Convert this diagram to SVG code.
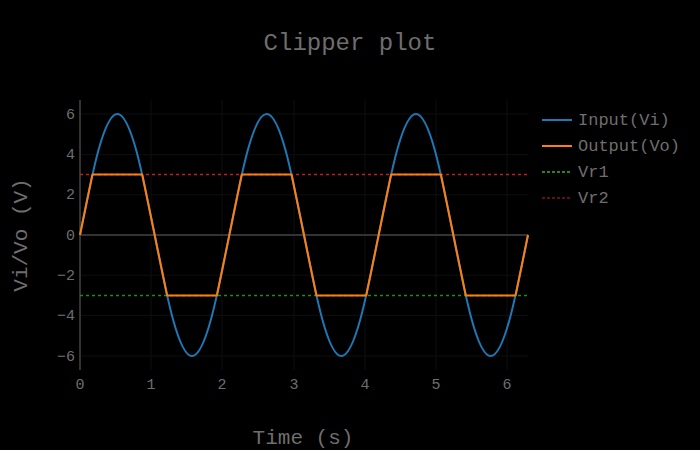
<svg xmlns="http://www.w3.org/2000/svg" width="700" height="450" viewBox="0 0 700 450">
<style>
text{font-family:"Liberation Mono","Courier New",monospace;fill:#6e6e6e}
.tk{font-size:15px}
.grid{stroke:#0f0f0f;stroke-width:1}
.lg{font-size:17px}
</style>
<rect width="700" height="450" fill="#000"/>
<text x="350" y="50" font-size="24" text-anchor="middle">Clipper plot</text>
<g id="grid">
<path class="grid" d="M151,100V370M222,100V370M294,100V370M365,100V370M436,100V370M507,100V370M80,114H528M80,154.7H528M80,194.8H528M80,275.2H528M80,315.3H528M80,356H528"/>
<path d="M80,235H528" stroke="#333" stroke-width="2"/>
<path d="M80,100V370" stroke="#333" stroke-width="2"/>
</g>
<g id="ticks" class="tk">
<text x="75" y="119" text-anchor="end">6</text>
<text x="75" y="159" text-anchor="end">4</text>
<text x="75" y="199" text-anchor="end">2</text>
<text x="75" y="240" text-anchor="end">0</text>
<text x="75" y="280" text-anchor="end">−2</text>
<text x="75" y="320" text-anchor="end">−4</text>
<text x="75" y="361" text-anchor="end">−6</text>
<text x="80" y="389" text-anchor="middle">0</text>
<text x="151" y="389" text-anchor="middle">1</text>
<text x="222" y="389" text-anchor="middle">2</text>
<text x="294" y="389" text-anchor="middle">3</text>
<text x="365" y="389" text-anchor="middle">4</text>
<text x="436" y="389" text-anchor="middle">5</text>
<text x="507" y="389" text-anchor="middle">6</text>
</g>
<text x="303" y="444" font-size="21" text-anchor="middle">Time (s)</text>
<text transform="translate(27,235) rotate(-90)" font-size="21" text-anchor="middle">Vi/Vo (V)</text>
<g id="series" fill="none">
<path d="M80,174.5H528" stroke="#c0201f" stroke-width="1.5" stroke-dasharray="3,3"/>
<path d="M80,295.5H528" stroke="#228822" stroke-width="1.5" stroke-dasharray="3,3"/>
<path d="M80,235c12.18,-62 23.83,-121 37.33,-121 c13.5,0 25.15,59 37.33,121 s23.83,121 37.33,121 s25.15,-59 37.33,-121 s23.83,-121 37.33,-121 s25.15,59 37.33,121 s23.83,121 37.33,121 s25.15,-59 37.33,-121 s23.83,-121 37.33,-121 s25.15,59 37.33,121 s23.83,121 37.33,121 s25.15,-59 37.33,-121" stroke="#1f77b4" stroke-width="2"/>
<polyline points="80,235 92.45,174.5 142.22,174.5 167.12,295.5 216.89,295.5 241.78,174.5 291.55,174.5 316.45,295.5 366.22,295.5 391.12,174.5 440.89,174.5 465.79,295.5 515.56,295.5 528,235" stroke="#ff7f0e" stroke-width="2" stroke-linejoin="round"/>
</g>
<g id="legend" class="lg">
<path d="M542,120H572" stroke="#1f77b4" stroke-width="2"/>
<text x="578" y="125">Input(Vi)</text>
<path d="M542,146H572" stroke="#ff7f0e" stroke-width="2"/>
<text x="578" y="151">Output(Vo)</text>
<path d="M542,172H572" stroke="#228822" stroke-width="2" stroke-dasharray="3,2"/>
<text x="578" y="177">Vr1</text>
<path d="M542,198H572" stroke="#c0201f" stroke-width="1" stroke-dasharray="3,2"/>
<text x="578" y="203">Vr2</text>
</g>
</svg>
